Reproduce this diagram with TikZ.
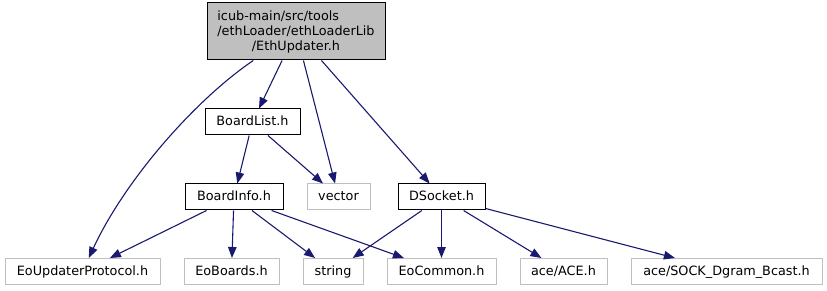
\documentclass[tikz,border=0pt]{standalone}
\usepackage{fontspec}
\setmainfont{DejaVu Sans}
\usetikzlibrary{arrows.meta}
\definecolor{edgeblue}{HTML}{191970}
\definecolor{boxgrey}{HTML}{BFBFBF}
\begin{document}
\begin{tikzpicture}[x=1pt,y=-1pt,
  font=\fontsize{12.8}{15}\selectfont,
  basebox/.style={draw=black,line width=1pt,fill=white,inner sep=0pt},
  filebox/.style={basebox,minimum height=26pt,text height=9.5pt,text depth=2.5pt},
  extbox/.style={filebox,draw=boxgrey},
  dep/.style={draw=edgeblue,line width=1.1pt,
    -{Triangle[length=11pt,width=8.5pt]}}]
\useasboundingbox (0,0) rectangle (827,291);

% the header being documented
\node[basebox,fill=boxgrey,minimum width=178pt,minimum height=57pt,align=center]
  (eth) at (296,31.5)
  {\rlap{icub-main/src/tools}\phantom{/ethLoader/ethLoaderLib}\\/ethLoader/ethLoaderLib\\/EthUpdater.h};

% project headers
\node[filebox,minimum width=95pt] (boardlist) at (252.5,122) {BoardList.h};
\node[filebox,minimum width=98pt] (boardinfo) at (234,197) {BoardInfo.h};
\node[filebox,minimum width=87pt] (dsocket) at (441.5,197) {DSocket.h};

% external headers
\node[extbox,minimum width=63pt] (vector) at (338.5,197) {vector};
\node[extbox,minimum width=155pt] (eoupd) at (82.5,271.5) {EoUpdaterProtocol.h};
\node[extbox,minimum width=95pt] (eoboards) at (231.5,271.5) {EoBoards.h};
\node[extbox,minimum width=60pt] (string) at (333,271.5) {string};
\node[extbox,minimum width=109pt] (eocommon) at (441.5,271.5) {EoCommon.h};
\node[extbox,minimum width=87pt] (ace) at (563.5,271.5) {ace/ACE.h};
\node[extbox,minimum width=191pt] (sock) at (726.5,271.5) {ace/SOCK\_Dgram\_Bcast.h};

% include dependencies
\draw[dep] (eth) .. controls (195,100) and (125,180) .. (eoupd);
\draw[dep] (eth) -- (boardlist);
\draw[dep] (eth) -- (vector);
\draw[dep] (eth) -- (dsocket);
\draw[dep] (boardlist) -- (boardinfo);
\draw[dep] (boardlist) -- (vector);
\draw[dep] (boardinfo) -- (eoupd);
\draw[dep] (boardinfo) -- (eoboards);
\draw[dep] (boardinfo) -- (string);
\draw[dep] (boardinfo) -- (eocommon);
\draw[dep] (dsocket) -- (string);
\draw[dep] (dsocket) -- (eocommon);
\draw[dep] (dsocket) -- (ace);
\draw[dep] (dsocket) -- (sock);
\end{tikzpicture}
\end{document}
